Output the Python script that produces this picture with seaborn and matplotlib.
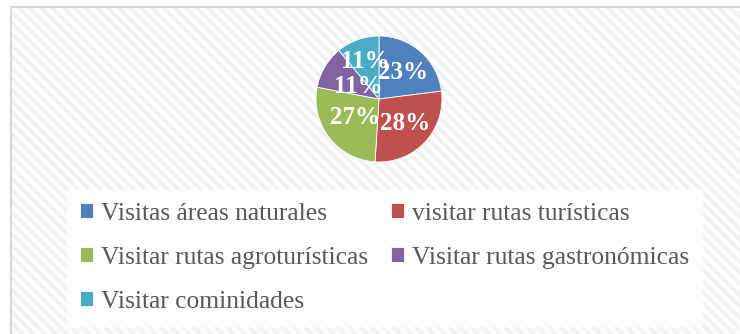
import matplotlib
matplotlib.use("Agg")
import matplotlib.pyplot as plt
from matplotlib.patches import Rectangle
import seaborn as sns
import numpy as np

sns.set_theme(style="white")
plt.rcParams["font.family"] = ["Liberation Serif", "DejaVu Serif"]
plt.rcParams["hatch.linewidth"] = 2.5
plt.rcParams["hatch.color"] = "#f1f1f1"

# Survey shares of preferred activities
categories = [
    "Visitas áreas naturales",
    "visitar rutas turísticas",
    "Visitar rutas agroturísticas",
    "Visitar rutas gastronómicas",
    "Visitar cominidades",
]
shares = [23, 28, 27, 11, 11]
colors = ["#4F81BD", "#C0504D", "#9BBB59", "#8064A2", "#4BACC6"]
# radial placement of each percentage label (fraction of radius)
label_radius = [0.57, 0.57, 0.49, 0.38, 0.63]

fig = plt.figure(figsize=(7.4, 3.34), dpi=100)
fig.patch.set_facecolor("white")

# Light diagonal texture for the chart area
W, H = 740, 334
bg = Rectangle((11 / W, 0), 1, 1 - 7 / H, transform=fig.transFigure,
               facecolor="#fdfdfd", edgecolor="#f1f1f1", hatch="\\\\\\",
               linewidth=0, zorder=-10)
fig.patches.append(bg)
border = Rectangle((11 / W, -0.05), 1.0, 1.05 - 7 / H, transform=fig.transFigure,
                   facecolor="none", edgecolor="#d9d9d9", linewidth=1.5, zorder=-9)
fig.patches.append(border)

cx, cy, r = 379, 99, 63
ax = fig.add_axes([(cx - r) / W, (H - cy - r) / H, 2 * r / W, 2 * r / H])
ax.set_facecolor("none")
wedges, _, autotexts = ax.pie(
    shares, colors=colors, startangle=90, counterclock=False,
    autopct="%1.0f%%", pctdistance=0.55,
    wedgeprops=dict(linewidth=0.6, edgecolor="white"),
    textprops=dict(color="white", fontsize=18, fontweight="bold"),
)
for w, t, d in zip(wedges, autotexts, label_radius):
    mid = np.deg2rad((w.theta1 + w.theta2) / 2)
    t.set_position((d * np.cos(mid), d * np.sin(mid)))
ax.set_xlim(-1, 1)
ax.set_ylim(-1, 1)
ax.set_aspect("equal")
ax.axis("off")

# Legend entries read row by row
order = [0, 2, 4, 1, 3]
leg = fig.legend(
    [wedges[i] for i in order], [categories[i] for i in order],
    ncol=2, loc="upper left",
    bbox_to_anchor=(67 / W, 1 - 190 / H), frameon=True,
    prop=dict(size=18.4),
    handlelength=0.5, handleheight=0.5, handletextpad=0.32,
    columnspacing=0.9, labelspacing=0.86, borderpad=0.5,
    borderaxespad=0, fancybox=False,
)
leg.get_frame().set_facecolor("white")
leg.get_frame().set_edgecolor("white")
for t in leg.get_texts():
    t.set_color("#595959")

fig.savefig("out.png", dpi=100)
